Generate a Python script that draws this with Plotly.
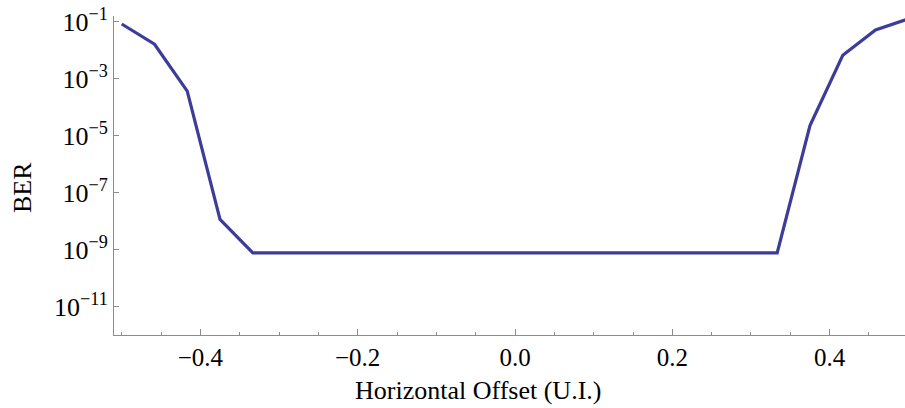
import plotly.graph_objects as go

offsets = [-0.5, -0.4583, -0.4167, -0.375, -0.3333, -0.2917, -0.25, -0.2083,
           -0.1667, -0.125, -0.0833, -0.0417, 0.0, 0.0417, 0.0833, 0.125,
           0.1667, 0.2083, 0.25, 0.2917, 0.3333, 0.375, 0.4167, 0.4583, 0.5]
ber = [0.083, 0.0162, 3.65e-4, 1.15e-8, 7.6e-10, 7.6e-10, 7.6e-10, 7.6e-10,
       7.6e-10, 7.6e-10, 7.6e-10, 7.6e-10, 7.6e-10, 7.6e-10, 7.6e-10, 7.6e-10,
       7.6e-10, 7.6e-10, 7.6e-10, 7.6e-10, 7.6e-10, 2.24e-5, 6.6e-3, 0.051, 0.125]

y_tick_vals = [1e-1, 1e-3, 1e-5, 1e-7, 1e-9, 1e-11]
y_tick_text = ["10<sup>−1</sup>", "10<sup>−3</sup>", "10<sup>−5</sup>",
               "10<sup>−7</sup>", "10<sup>−9</sup>", "10<sup>−11</sup>"]
x_tick_vals = [-0.4, -0.2, 0.0, 0.2, 0.4]
x_tick_text = ["−0.4", "−0.2", "0.0", "0.2", "0.4"]

FONT = "Liberation Serif"
AX = "#8c8c8c"

fig = go.Figure()
fig.add_trace(go.Scatter(x=offsets, y=ber, mode="lines",
                         line=dict(color="#3d3d99", width=3.2),
                         showlegend=False, hoverinfo="skip"))

fig.update_layout(
    width=905, height=408,
    margin=dict(l=114, r=0, t=16, b=73),
    paper_bgcolor="white", plot_bgcolor="white",
    font=dict(family=FONT, color="black"),
    xaxis=dict(range=[-0.5098, 0.4958], showgrid=False, zeroline=False,
               showline=True, linecolor=AX, linewidth=1,
               ticks="inside", ticklen=6, tickcolor=AX, tickwidth=1,
               tickmode="array", tickvals=x_tick_vals, ticktext=x_tick_text,
               tickfont=dict(family=FONT, size=25, color="black"),
               minor=dict(ticks="inside", ticklen=3, tickcolor=AX,
                          dtick=0.05, tick0=0, showgrid=False)),
    yaxis=dict(type="log", range=[-12, -0.8], showgrid=False, zeroline=False,
               showline=True, linecolor=AX, linewidth=1,
               ticks="inside", ticklen=5, tickcolor=AX, tickwidth=1,
               tickmode="array", tickvals=y_tick_vals, ticktext=y_tick_text,
               tickfont=dict(family=FONT, size=26, color="black")),
    annotations=[
        dict(text="Horizontal Offset (U.I.)", xref="paper", yref="paper",
             x=(478 - 114) / 791, y=-(390 - 335) / 319, showarrow=False,
             xanchor="center", yanchor="middle",
             font=dict(family=FONT, size=26, color="black")),
        dict(text="BER", xref="paper", yref="paper",
             x=-(114 - 23) / 791, y=(335 - 188) / 319, showarrow=False,
             xanchor="center", yanchor="middle", textangle=-90,
             font=dict(family=FONT, size=26, color="black")),
    ],
)

fig.write_html("out.html", config={"displayModeBar": False},
               post_script="document.body.style.margin='0';document.body.style.padding='0';")
